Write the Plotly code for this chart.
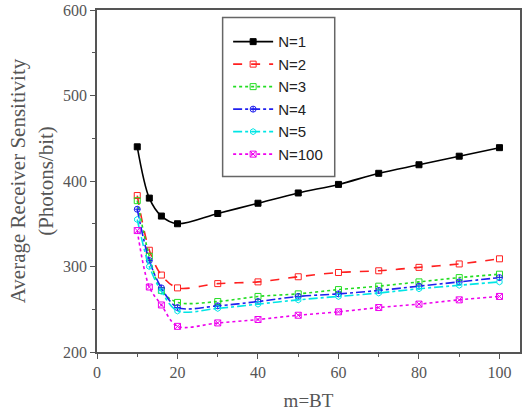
import plotly.graph_objects as go

x = [10, 13, 16, 20, 30, 40, 50, 60, 70, 80, 90, 100]
n1 = [440, 380, 359, 350, 362, 374, 386, 396, 409, 419, 429, 439]
n2 = [383, 319, 290, 275, 280, 282, 288, 293, 295, 299, 303, 309]
n3 = [377, 312, 272, 258, 259, 265, 268, 273, 277, 282, 287, 291]
n4 = [367, 307, 275, 252, 254, 259, 265, 268, 272, 277, 282, 287]
n5 = [355, 300, 271, 248, 251, 256, 261, 265, 269, 274, 278, 282]
n100 = [342, 276, 255, 230, 234, 238, 243, 247, 252, 256, 261, 265]

names = ["N=1", "N=2", "N=3", "N=4", "N=5", "N=100"]
colors = ["#000000", "#ff2020", "#22dd22", "#2020ee", "#00e5e5", "#ee00ee"]
dashes = ["solid", "dash", "dot", "dashdot", "dashdot", "3px,3px"]
symbols = ["square", "square-open", "square-open", "circle-cross-open", "hexagon-open", "square-x-open"]
series = [n1, n2, n3, n4, n5, n100]

fig = go.Figure()
for nm, c, d, s, y in zip(names, colors, dashes, symbols, series):
    fig.add_trace(go.Scatter(
        x=x, y=y, name=nm, mode="lines+markers",
        line=dict(color=c, dash=d, width=1.6, shape="spline", smoothing=0.9),
        marker=dict(symbol=s, size=6, color=c, line=dict(color=c, width=1)),
    ))

axis_common = dict(
    showgrid=False, zeroline=False, showline=True, linecolor="#555555", linewidth=1.5,
    mirror=True, ticks="outside", ticklen=5, tickwidth=1.2, tickcolor="#555555",
    tickfont=dict(family="Liberation Serif", size=16, color="#555555"),
    automargin=False,
)
fig.update_xaxes(range=[0, 105.1], tickvals=[0, 20, 40, 60, 80, 100],
                 minor=dict(tickvals=[10, 30, 50, 70, 90], ticks="outside", ticklen=3, tickcolor="#555555"),
                 title=dict(text="m=BT", font=dict(family="Liberation Serif", size=19, color="#555555"), standoff=26),
                 **axis_common)
fig.update_yaxes(range=[200, 600], tickvals=[200, 300, 400, 500, 600],
                 minor=dict(tickvals=[250, 350, 450, 550], ticks="outside", ticklen=3, tickcolor="#555555"),
                 title=dict(text="Average Receiver Sensitivity<br>(Photons/bit)",
                            font=dict(family="Liberation Serif", size=21, color="#555555"), standoff=4),
                 **axis_common)

fig.add_shape(type="rect", xref="paper", yref="paper", x0=0.297, x1=0.562, y0=0.513, y1=0.978,
              line=dict(color="#666666", width=1.5), fillcolor="white", layer="below")

fig.update_layout(
    width=524, height=411,
    margin=dict(l=97, r=4, t=10, b=59),
    paper_bgcolor="white", plot_bgcolor="white",
    legend=dict(x=0.31, y=0.955, xanchor="left", yanchor="top", bgcolor="rgba(0,0,0,0)",
                font=dict(family="Liberation Sans", size=15, color="#222222"),
                tracegroupgap=0, itemwidth=40),
    showlegend=True,
)
fig.write_html("out.html")
